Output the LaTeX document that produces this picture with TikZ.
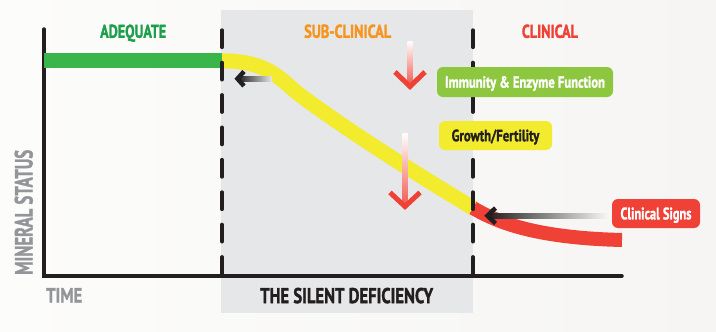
\documentclass[tikz,border=0pt]{standalone}
\usepackage{fontspec}
\setmainfont{PT Sans}[BoldFeatures={FakeBold=1.6}]
\usepackage{graphicx}
\definecolor{dark}{RGB}{35,31,32}
\definecolor{barGreen}{RGB}{57,181,74}
\definecolor{ylw}{RGB}{243,235,45}
\definecolor{redc}{RGB}{239,65,54}
\definecolor{lblGreen}{RGB}{141,198,63}
\definecolor{adGreen}{RGB}{28,158,74}
\definecolor{orng}{RGB}{247,148,29}
\definecolor{grayText}{RGB}{147,149,152}
\definecolor{grayBox}{RGB}{230,231,232}
\definecolor{bgLeft}{RGB}{252,252,251}
\definecolor{bgRight}{RGB}{246,245,243}
\newcommand\fittext[3]{\resizebox{#1pt}{#2pt}{\smash{#3}\rule{0pt}{\fontcharht\font`I}}}
\tikzset{
  lbl/.style={inner sep=0pt, font=\bfseries, anchor=south west},
  tag/.style={inner sep=0pt, font=\bfseries, rounded corners=6pt},
  axisline/.style={line width=3.5pt, color=dark, line cap=round, line join=miter},
  divider/.style={line width=3.8pt, color=dark, line cap=round, dash pattern=on 17pt off 15.4pt},
  chev/.style={line width=4.5pt, line join=miter, line cap=butt},
}
\begin{document}
\begin{tikzpicture}[x=1pt,y=-1pt]
\useasboundingbox (0,0) rectangle (716,332);
\shade[left color=bgLeft, right color=bgRight] (0,0) rectangle (716,332);
\fill[grayBox] (221,10) rectangle (472.7,312.7);
% axes
\coordinate (ytop) at (44,29);
\coordinate (orig) at (44,276);
\coordinate (xend) at (622,276);
\draw[axisline] (ytop) -- (orig) -- (xend);
% status curve
\coordinate (g0) at (44,60.8);
\coordinate (g1) at (222,60.8);
\coordinate (y1) at (300,95);
\coordinate (y2) at (473,208);
\coordinate (r1) at (622,240);
\draw[line width=15pt, barGreen] (g0) -- (g1);
\draw[line width=15pt, ylw] (g1) .. controls (270,60.8) and (282,81.5) .. (y1) .. controls (350,132.5) and (423,178) .. (y2);
\draw[line width=14pt, redc] (y2) .. controls (500,224) and (540,238) .. (r1);
% dividers
\coordinate (d1t) at (222,30.2);
\coordinate (d1b) at (222,276);
\coordinate (d2t) at (473,30.2);
\coordinate (d2b) at (473,276);
\draw[divider] (d1t) -- (d1b);
\draw[divider] (d2t) -- (d2b);
% black arrows
\shade[left color=dark, right color=grayBox] (238,76.5) rectangle (272,81);
\draw[chev, dark] (244,71.5) -- (237.5,78.7) -- (244,86);
\shade[left color=dark, right color=bgRight] (488,213.5) rectangle (607,218);
\draw[chev, dark] (495.5,208) -- (487.5,215.7) -- (495.5,223.5);
% red arrows
\shade[top color=white, bottom color=redc!85] (407.5,41) rectangle (412.5,84);
\draw[chev, redc, line width=5pt] (395,72) -- (410,86.5) -- (425,72);
\shade[top color=white, bottom color=redc!85] (402.5,133) rectangle (407.5,204);
\draw[chev, redc, line width=5pt] (390,192.5) -- (405,206.5) -- (420,192.5);
% headings
\node[lbl, text=adGreen] (adequate) at (100,38) {\fittext{66}{13}{ADEQUATE}};
\node[lbl, text=orng] (subclin) at (304,38) {\fittext{87}{13}{SUB-CLINICAL}};
\node[lbl, text=redc] (clin) at (521.7,38) {\fittext{56}{13}{CLINICAL}};
\node[lbl, text=grayText] (time) at (46,302.7) {\fittext{36}{14.4}{TIME}};
\node[lbl, text=dark] (silent) at (260,303.3) {\fittext{173}{15}{THE SILENT DEFICIENCY}};
\node[lbl, text=grayText, rotate=90] (mineral) at (32.7,275) {\fittext{125}{17.5}{MINERAL STATUS}};
% tags
\node[tag, fill=lblGreen, text=white, minimum width=176pt, minimum height=30pt] (immun) at (525,82) {\fittext{160}{11.3}{Immunity \& Enzyme Function}};
\node[tag, fill=ylw, text=dark, minimum width=113pt, minimum height=29pt] (growth) at (495.5,135.5) {\fittext{87.6}{11.4}{Growth/Fertility}};
\node[tag, fill=redc, text=white, minimum width=88pt, minimum height=29pt] (signs) at (656,213.5) {\fittext{71}{11.7}{Clinical Signs}};
\end{tikzpicture}
\end{document}
